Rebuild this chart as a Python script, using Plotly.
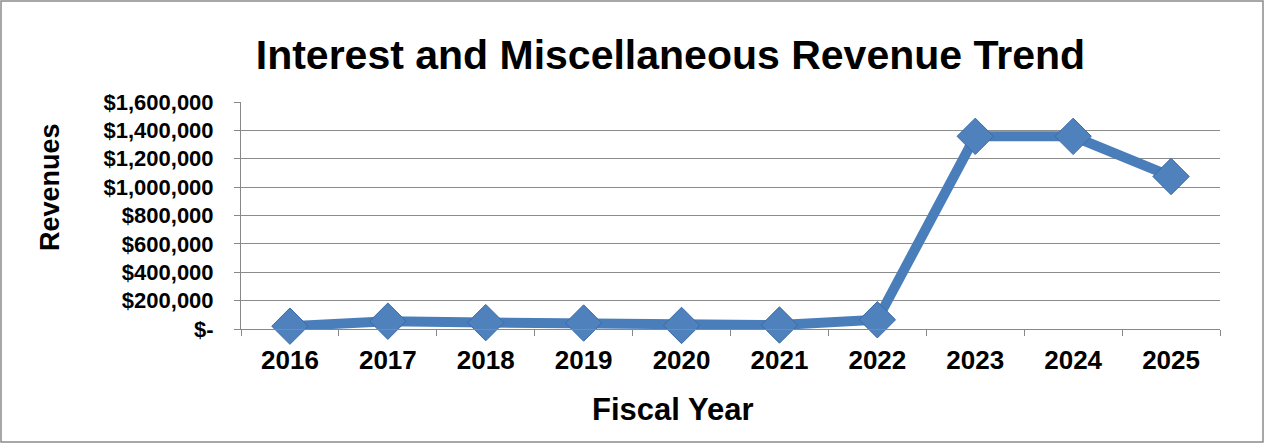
import plotly.graph_objects as go

years = ["2016", "2017", "2018", "2019", "2020", "2021", "2022", "2023", "2024", "2025"]
revenues = [20000, 55000, 45000, 42000, 25000, 28000, 65000, 1358000, 1358000, 1075000]
ytick_vals = [0, 200000, 400000, 600000, 800000, 1000000, 1200000, 1400000, 1600000]
ytick_text = ["$-", "$200,000", "$400,000", "$600,000", "$800,000", "$1,000,000",
              "$1,200,000", "$1,400,000", "$1,600,000"]

W, H = 1265, 444
L, R, T, B = 241, 45, 102, 115
pw, ph = W - L - R, H - T - B

font = "Arial, 'Liberation Sans', sans-serif"
blue = "#4A7EBB"


def px_x(px):
    return (px - L) / pw


def px_y(py):
    return (H - B - py) / ph


fig = go.Figure()
fig.add_trace(go.Scatter(
    x=years, y=revenues, mode="lines+markers",
    line=dict(color=blue, width=10),
    marker=dict(symbol="diamond", size=28, color="#4F81BD",
                line=dict(color="#3A6BA5", width=1)),
    cliponaxis=False, showlegend=False,
))

fig.update_layout(
    width=W, height=H,
    margin=dict(l=L, r=R, t=T, b=B),
    paper_bgcolor="white", plot_bgcolor="white",
    font=dict(family=font, color="black"),
    title=dict(text="<b>Interest and Miscellaneous Revenue Trend</b>",
               x=0.530, xanchor="center", y=0.878, yanchor="middle",
               font=dict(size=41, family=font, color="black")),
    xaxis=dict(
        type="category", tickson="boundaries",
        ticks="outside", ticklen=6, tickcolor="#888888",
        showline=True, linecolor="#888888", linewidth=1,
        showgrid=False, zeroline=False,
        tickfont=dict(size=26, family=font, color="black", weight="bold"),
        ticklabelstandoff=8,
        range=[-0.5, 9.5],
    ),
    yaxis=dict(
        range=[0, 1600000],
        tickvals=ytick_vals, ticktext=ytick_text,
        ticks="outside", ticklen=6, tickcolor="#888888",
        showline=True, linecolor="#888888", linewidth=1,
        showgrid=True, gridcolor="#8c8c8c", gridwidth=1,
        zeroline=False,
        tickfont=dict(size=22, family=font, color="black", weight="bold"),
        ticklabelstandoff=16,
    ),
)

fig.add_annotation(text="<b>Fiscal Year</b>", xref="paper", yref="paper",
                   x=px_x(672), y=px_y(409), xanchor="center", yanchor="middle",
                   showarrow=False, font=dict(size=31, family=font, color="black"))
fig.add_annotation(text="<b>Revenues</b>", xref="paper", yref="paper",
                   x=px_x(50), y=px_y(187), xanchor="center", yanchor="middle",
                   textangle=-90, showarrow=False,
                   font=dict(size=27, family=font, color="black"))

# figure border
fig.add_shape(type="rect", xref="paper", yref="paper",
              x0=px_x(1), x1=px_x(W - 2), y0=px_y(H - 2), y1=px_y(1),
              line=dict(color="#8a8a8a", width=1.5), fillcolor="rgba(0,0,0,0)", layer="below")

fig.write_html("out.html")
